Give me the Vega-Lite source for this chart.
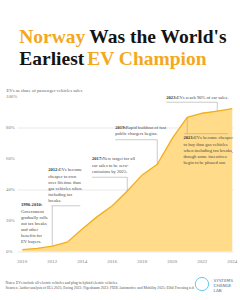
{
  "$schema": "https://vega.github.io/schema/vega-lite/v6.json",
  "width": 216,
  "height": 155,
  "autosize": {"type": "none"},
  "padding": {"left": 17, "top": 96.5, "right": 7, "bottom": 48.5},
  "background": "white",
  "config": {"view": {"stroke": null}, "font": "Liberation Sans Narrow"},
  "datasets": {
    "ev": [
      {"year": 2010, "share": 1.2},
      {"year": 2011, "share": 2.0},
      {"year": 2012, "share": 3.5},
      {"year": 2013, "share": 6.0},
      {"year": 2014, "share": 14.5},
      {"year": 2015, "share": 22.5},
      {"year": 2016, "share": 29.5},
      {"year": 2017, "share": 39.0},
      {"year": 2018, "share": 49.4},
      {"year": 2019, "share": 56.2},
      {"year": 2020, "share": 73.0},
      {"year": 2021, "share": 86.5},
      {"year": 2022, "share": 89.2},
      {"year": 2023, "share": 90.6},
      {"year": 2024, "share": 92.2}
    ],
    "yticks": [
      {"v": 0, "label": "0%", "x": 2008.92},
      {"v": 20, "label": "20%", "x": 2008.92},
      {"v": 40, "label": "40%", "x": 2008.92},
      {"v": 60, "label": "60%", "x": 2008.92},
      {"v": 80, "label": "80%", "x": 2008.92},
      {"v": 100, "label": "100%", "x": 2008.92}
    ],
    "xticks": [
      {"year": 2010, "label": "2010", "y": -6.8},
      {"year": 2012, "label": "2012", "y": -6.8},
      {"year": 2014, "label": "2014", "y": -6.8},
      {"year": 2016, "label": "2016", "y": -6.8},
      {"year": 2018, "label": "2018", "y": -6.8},
      {"year": 2020, "label": "2020", "y": -6.8},
      {"year": 2022, "label": "2022", "y": -6.8},
      {"year": 2024, "label": "2024", "y": -6.8}
    ],
    "notes": [
      {"year": 2009.91, "pct": 30.0, "head": "1990-2010:", "first": "", "body": "Government\ngradually rolls\nout tax breaks\nand other\nbenefits for\nEV buyers."},
      {"year": 2011.73, "pct": 52.3, "head": "2012:", "first": "EVs become", "body": "cheaper to own\nover lifetime than\ngas vehicles when\nincluding tax\nbreaks."},
      {"year": 2014.65, "pct": 59.5, "head": "2017:", "first": "New target for all", "body": "car sales to be zero-\nemissions by 2025."},
      {"year": 2016.2, "pct": 80.0, "head": "2019:", "first": "Rapid buildout of fast", "body": "public chargers begins."},
      {"year": 2020.75, "pct": 73.2, "head": "2021:", "first": "EVs become cheaper", "body": "to buy than gas vehicles\nwhen including tax breaks,\nthough some incentives\nbegin to be phased out."},
      {"year": 2019.6, "pct": 98.8, "head": "2023:", "first": "EVs reach 90% of car sales.", "body": ""}
    ],
    "leaders": [
      {"year": 2012, "top": 29.5, "bottom": 3.5},
      {"year": 2017, "top": 47.9, "bottom": 39.0},
      {"year": 2019, "top": 72.1, "bottom": 56.2},
      {"year": 2021, "top": 76.0, "bottom": 86.5},
      {"year": 2023, "top": 96.3, "bottom": 90.6}
    ],
    "underlines": [
      {"x1": 2011.95, "x2": 2013.87, "pct": 29.5},
      {"x1": 2014.65, "x2": 2017, "pct": 47.9},
      {"x1": 2016.2, "x2": 2019, "pct": 72.1},
      {"x1": 2020.8, "x2": 2023.73, "pct": 76.0},
      {"x1": 2019.6, "x2": 2023, "pct": 96.3}
    ],
    "headline": [
      {"word": "Norway", "accent": true, "year": 2009.8, "pct": 134.5},
      {"word": "Was the World's", "accent": false, "year": 2014.47, "pct": 134.5},
      {"word": "Earliest", "accent": false, "year": 2009.8, "pct": 120.6},
      {"word": "EV Champion", "accent": true, "year": 2014.33, "pct": 120.6}
    ],
    "logo": [
      {"label": "SYSTEMS\nCHANGE\nLAB", "year": 2022.75, "pct": -17.7, "iconYear": 2021.98, "iconPct": -21.0}
    ]
  },
  "layer": [
    {
      "data": {"name": "ev"},
      "mark": {"type": "area", "color": "#FFDB8A", "opacity": 1, "line": {"color": "#F5AE1A", "strokeWidth": 1.3}},
      "encoding": {
        "x": {
          "field": "year", "type": "quantitative",
          "scale": {"domain": [2009.65, 2024.05], "nice": false, "zero": false},
          "axis": {
            "values": [2010, 2012, 2014, 2016, 2018, 2020, 2022, 2024],
            "labels": false, "grid": false, "domain": false, "ticks": false,
            "title": ["Notes: EVs include all-electric vehicles and plug-in hybrid electric vehicles.", "Sources: Author analysis of IEA 2025; Ewing 2023; Figenbaum 2022; FIER Automotive and Mobility 2025; Elbil Forening n.d."],
            "titleAlign": "left", "titleAnchor": "start", "titleX": -12, "titleY": 28.6,
            "titleBaseline": "top", "titleFontSize": 3.7, "titleFontWeight": "normal",
            "titleColor": "#555555", "titleLineHeight": 5.3, "titleFont": "Liberation Sans Narrow"
          }
        },
        "y": {
          "field": "share", "type": "quantitative",
          "scale": {"domain": [0, 100], "nice": false},
          "axis": {
            "values": [0, 20, 40, 60, 80, 100],
            "labels": false,
            "grid": true, "gridColor": "#e0e0e0", "gridWidth": 0.7,
            "domain": false, "ticks": false,
            "title": "EVs as share of passenger vehicles sales",
            "titleAngle": 0, "titleAlign": "left", "titleBaseline": "middle",
            "titleX": -11, "titleY": -6.5, "titleFontSize": 4.7, "titleFontWeight": "normal",
            "titleColor": "#666666", "titleFont": "Liberation Sans Narrow"
          }
        }
      }
    },
    {
      "data": {"name": "yticks"},
      "mark": {"type": "text", "align": "left", "baseline": "middle", "fontSize": 4.8, "color": "#808080", "font": "Liberation Sans Narrow"},
      "encoding": {
        "x": {"field": "x", "type": "quantitative"},
        "y": {"field": "v", "type": "quantitative"},
        "text": {"field": "label"}
      }
    },
    {
      "data": {"name": "xticks"},
      "mark": {"type": "text", "align": "center", "baseline": "middle", "fontSize": 4.9, "color": "#808080", "font": "Liberation Sans Narrow"},
      "encoding": {
        "x": {"field": "year", "type": "quantitative"},
        "y": {"field": "y", "type": "quantitative"},
        "text": {"field": "label"}
      }
    },
    {
      "data": {"name": "leaders"},
      "mark": {"type": "rule", "color": "#a8a8a8", "strokeWidth": 0.6},
      "encoding": {
        "x": {"field": "year", "type": "quantitative"},
        "y": {"field": "top", "type": "quantitative"},
        "y2": {"field": "bottom"}
      }
    },
    {
      "data": {"name": "underlines"},
      "mark": {"type": "rule", "color": "#a8a8a8", "strokeWidth": 0.6},
      "encoding": {
        "x": {"field": "x1", "type": "quantitative"},
        "x2": {"field": "x2"},
        "y": {"field": "pct", "type": "quantitative"}
      }
    },
    {
      "data": {"name": "notes"},
      "mark": {"type": "text", "align": "left", "baseline": "middle", "fontSize": 4.6, "fontWeight": "bold", "color": "#333333", "font": "Liberation Sans Narrow"},
      "encoding": {
        "x": {"field": "year", "type": "quantitative"},
        "y": {"field": "pct", "type": "quantitative"},
        "text": {"field": "head"}
      }
    },
    {
      "data": {"name": "notes"},
      "mark": {"type": "text", "align": "left", "baseline": "middle", "dx": 10.5, "fontSize": 4.6, "color": "#4a4a4a", "font": "Liberation Sans Narrow"},
      "encoding": {
        "x": {"field": "year", "type": "quantitative"},
        "y": {"field": "pct", "type": "quantitative"},
        "text": {"field": "first"}
      }
    },
    {
      "data": {"name": "notes"},
      "mark": {"type": "text", "align": "left", "baseline": "top", "dy": 3.75, "lineBreak": "\n", "lineHeight": 6, "fontSize": 4.6, "color": "#4a4a4a", "font": "Liberation Sans Narrow"},
      "encoding": {
        "x": {"field": "year", "type": "quantitative"},
        "y": {"field": "pct", "type": "quantitative"},
        "text": {"field": "body"}
      }
    },
    {
      "data": {"name": "headline"},
      "transform": [{"filter": "datum.accent"}],
      "mark": {"type": "text", "align": "left", "baseline": "alphabetic", "fontSize": 19.5, "fontWeight": "bold", "color": "#F4A81D", "font": "Liberation Sans Narrow"},
      "encoding": {
        "x": {"field": "year", "type": "quantitative"},
        "y": {"field": "pct", "type": "quantitative"},
        "text": {"field": "word"}
      }
    },
    {
      "data": {"name": "headline"},
      "transform": [{"filter": "!datum.accent"}],
      "mark": {"type": "text", "align": "left", "baseline": "alphabetic", "fontSize": 19.5, "fontWeight": "bold", "color": "#141414", "font": "Liberation Sans Narrow"},
      "encoding": {
        "x": {"field": "year", "type": "quantitative"},
        "y": {"field": "pct", "type": "quantitative"},
        "text": {"field": "word"}
      }
    },
    {
      "data": {"name": "logo"},
      "mark": {"type": "point", "shape": "circle", "filled": false, "size": 177, "stroke": "#5BC2E7", "strokeWidth": 0.9, "opacity": 1},
      "encoding": {
        "x": {"field": "iconYear", "type": "quantitative"},
        "y": {"field": "iconPct", "type": "quantitative"}
      }
    },
    {
      "data": {"name": "logo"},
      "mark": {"type": "text", "align": "left", "baseline": "top", "lineBreak": "\n", "lineHeight": 5, "fontSize": 4.2, "color": "#3A6D9A", "font": "DejaVu Sans"},
      "encoding": {
        "x": {"field": "year", "type": "quantitative"},
        "y": {"field": "pct", "type": "quantitative"},
        "text": {"field": "label"}
      }
    }
  ]
}
